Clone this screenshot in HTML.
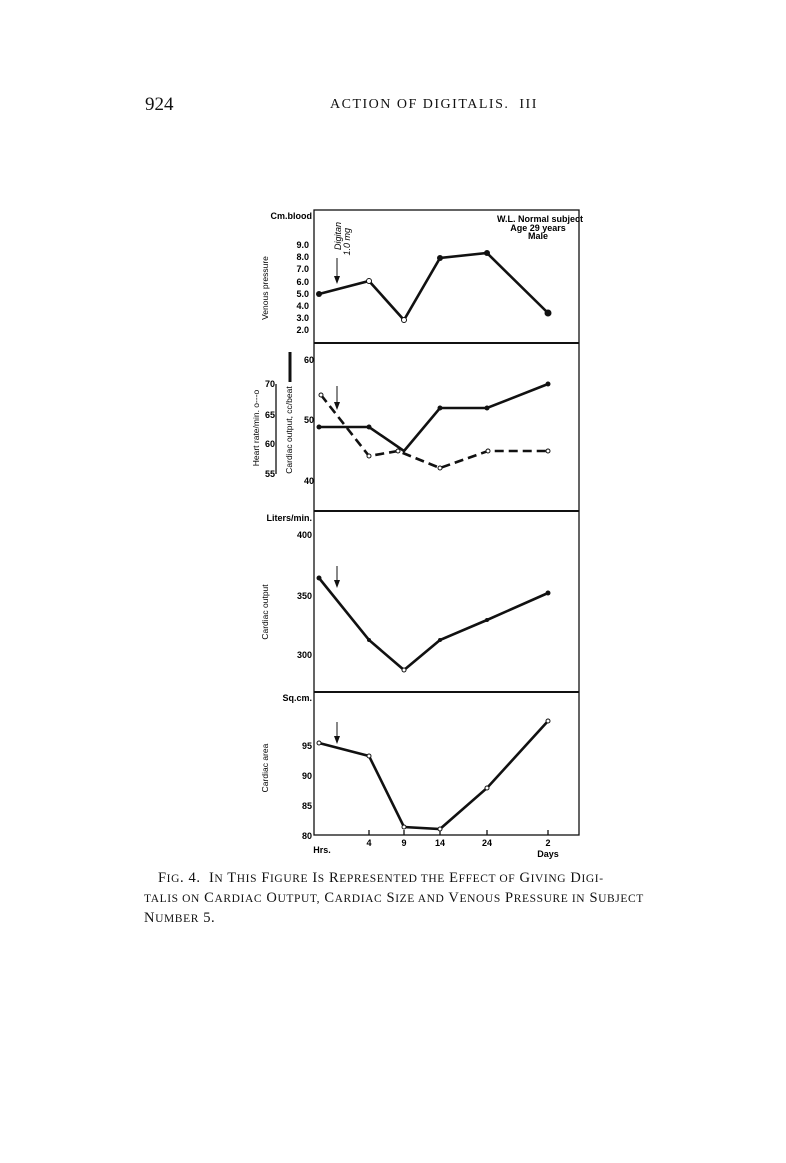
<!DOCTYPE html>
<html><head><style>
body{margin:0;background:#fff;width:786px;height:1163px;overflow:hidden;position:relative;font-family:"Liberation Serif",serif;color:#111}
.t{position:absolute;white-space:nowrap}
</style></head><body>
<div class="t" style="left:145px;top:94px;font-size:19px">924</div>
<div class="t" style="left:330px;top:97px;font-size:14px;letter-spacing:1.5px">ACTION OF DIGITALIS.&nbsp; III</div>
<svg width="786" height="1163" style="position:absolute;left:0;top:0" font-family="Liberation Sans, sans-serif" font-weight="bold">
<g stroke="#111" fill="none" stroke-width="1.3">
<rect x="314" y="210" width="265" height="625"/>
<line x1="314" y1="343" x2="579" y2="343" stroke-width="2"/>
<line x1="314" y1="511" x2="579" y2="511" stroke-width="2"/>
<line x1="314" y1="692" x2="579" y2="692" stroke-width="2"/>
<line x1="369" y1="830" x2="369" y2="835"/><line x1="404" y1="830" x2="404" y2="835"/><line x1="440" y1="830" x2="440" y2="835"/><line x1="487" y1="830" x2="487" y2="835"/><line x1="548" y1="830" x2="548" y2="835"/>
<line x1="276" y1="384" x2="276" y2="474"/>
</g>
<g stroke="#111" fill="none" stroke-width="2.6">
<polyline points="319,294 369,281 404,320 440,258 487,253 548,313"/>
<polyline points="319,427 369,427 404,451 440,408 487,408 548,384"/>
<polyline points="321,395 369,456 398,451 440,468 488,451 548,451" stroke-dasharray="9,5"/>
<polyline points="319,578 369,640 404,670 440,640 487,620 548,593"/>
<polyline points="319,743 369,756 404,827 440,829 487,788 548,721"/>
</g>
<g fill="#111">
<circle cx="319" cy="294" r="3"/><circle cx="440" cy="258" r="3"/><circle cx="487" cy="253" r="3"/><circle cx="548" cy="313" r="3.5"/>
<circle cx="319" cy="427" r="2.5"/><circle cx="369" cy="427" r="2.5"/><circle cx="440" cy="408" r="2.5"/><circle cx="487" cy="408" r="2.5"/><circle cx="548" cy="384" r="2.5"/>
<circle cx="319" cy="578" r="2.5"/><circle cx="548" cy="593" r="2.5"/><circle cx="369" cy="640" r="2"/><circle cx="440" cy="640" r="2"/><circle cx="487" cy="620" r="2"/>
</g>
<g fill="#fff" stroke="#111" stroke-width="1">
<circle cx="369" cy="281" r="2.5"/><circle cx="404" cy="320" r="2.5"/>
<circle cx="321" cy="395" r="2"/><circle cx="369" cy="456" r="2"/><circle cx="398" cy="451" r="2"/><circle cx="440" cy="468" r="2"/><circle cx="488" cy="451" r="2"/><circle cx="548" cy="451" r="2"/><circle cx="404" cy="670" r="2"/>
<circle cx="319" cy="743" r="2"/><circle cx="369" cy="756" r="2"/><circle cx="404" cy="827" r="2"/><circle cx="440" cy="829" r="2"/><circle cx="487" cy="788" r="2"/><circle cx="548" cy="721" r="2"/>
</g>
<g stroke="#111" stroke-width="1"><line x1="337" y1="258" x2="337" y2="280"/><line x1="337" y1="386" x2="337" y2="406"/><line x1="337" y1="566" x2="337" y2="584"/><line x1="337" y1="722" x2="337" y2="740"/><line x1="290" y1="352" x2="290" y2="382" stroke-width="3"/></g>
<g fill="#111"><path d="M334,276 L337,284 L340,276Z"/><path d="M334,402 L337,410 L340,402Z"/><path d="M334,580 L337,588 L340,580Z"/><path d="M334,736 L337,744 L340,736Z"/></g>
<g font-size="9" text-anchor="end">
<text x="312" y="219">Cm.blood</text>
<text x="309" y="248">9.0</text><text x="309" y="260">8.0</text><text x="309" y="272">7.0</text><text x="309" y="285">6.0</text><text x="309" y="297">5.0</text><text x="309" y="309">4.0</text><text x="309" y="321">3.0</text><text x="309" y="333">2.0</text>
<text x="314" y="363">60</text><text x="314" y="423">50</text><text x="314" y="484">40</text>
<text x="275" y="387">70</text><text x="275" y="418">65</text><text x="275" y="447">60</text><text x="275" y="477">55</text>
<text x="312" y="521">Liters/min.</text>
<text x="312" y="538">400</text><text x="312" y="599">350</text><text x="312" y="658">300</text>
<text x="312" y="701">Sq.cm.</text>
<text x="312" y="749">95</text><text x="312" y="779">90</text><text x="312" y="809">85</text><text x="312" y="839">80</text>
</g>
<g font-size="9" text-anchor="middle">
<text x="369" y="846">4</text><text x="404" y="846">9</text><text x="440" y="846">14</text><text x="487" y="846">24</text><text x="548" y="846">2</text><text x="548" y="857">Days</text><text x="322" y="853">Hrs.</text>
<text x="540" y="222">W.L. Normal subject</text><text x="538" y="231">Age 29 years</text><text x="538" y="239">Male</text>
</g>
<g font-size="8.5" text-anchor="middle" font-weight="normal">
<text transform="translate(268,288) rotate(-90)">Venous pressure</text>
<text transform="translate(292,430) rotate(-90)">Cardiac output, cc/beat</text>
<text transform="translate(259,428) rotate(-90)">Heart rate/min. o---o</text>
<text transform="translate(268,612) rotate(-90)">Cardiac output</text>
<text transform="translate(268,768) rotate(-90)">Cardiac area</text>
</g>
<g font-size="9" font-weight="normal">
<text transform="translate(341,222) rotate(-90)" font-style="italic" text-anchor="end">Digitan</text>
<text transform="translate(350,228) rotate(-90)" font-style="italic" text-anchor="end">1.0 mg</text>
</g>
</svg>
<div class="t" style="left:158px;top:868px;font-size:14.5px;letter-spacing:0.6px;line-height:20px">F<span style="font-size:11.5px">IG</span>. 4.&nbsp; I<span style="font-size:11.5px">N</span> T<span style="font-size:11.5px">HIS</span> F<span style="font-size:11.5px">IGURE</span> I<span style="font-size:11.5px">S</span> R<span style="font-size:11.5px">EPRESENTED THE</span> E<span style="font-size:11.5px">FFECT OF</span> G<span style="font-size:11.5px">IVING</span> D<span style="font-size:11.5px">IGI-</span></div>
<div class="t" style="left:144px;top:888px;font-size:14.5px;letter-spacing:0.6px;line-height:20px"><span style="font-size:11.5px">TALIS ON</span> C<span style="font-size:11.5px">ARDIAC</span> O<span style="font-size:11.5px">UTPUT,</span> C<span style="font-size:11.5px">ARDIAC</span> S<span style="font-size:11.5px">IZE AND</span> V<span style="font-size:11.5px">ENOUS</span> P<span style="font-size:11.5px">RESSURE IN</span> S<span style="font-size:11.5px">UBJECT</span></div>
<div class="t" style="left:144px;top:908px;font-size:14.5px;letter-spacing:0.6px;line-height:20px">N<span style="font-size:11.5px">UMBER</span> 5.</div>
</body></html>
